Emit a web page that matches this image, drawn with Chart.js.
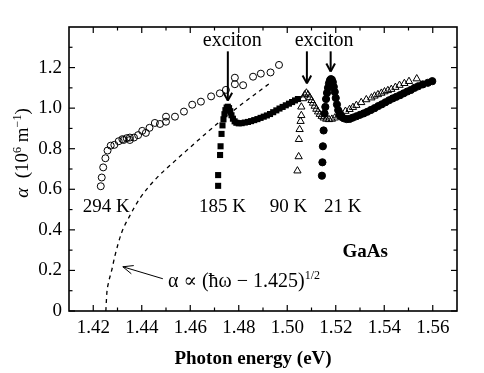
<!DOCTYPE html>
<html>
<head>
<meta charset="utf-8">
<script src="https://cdn.jsdelivr.net/npm/chart.js@4.4.1/dist/chart.umd.min.js"></script>
<style>
  html, body { margin: 0; padding: 0; background: #fff; }
  #wrap { width: 484px; height: 373px; position: relative; }
</style>
</head>
<body>
<div id="wrap"><canvas id="chart"></canvas></div>
<script>
// GaAs absorption edge
// photon energy (eV) / alpha (10^6 m^-1)
const e294 = [1.4231, 1.4235, 1.4241, 1.4250, 1.4259, 1.4272, 1.4287, 1.4305, 1.4320, 1.4325, 1.4338, 1.4351,
  1.4351, 1.4368, 1.4385, 1.4402, 1.4417, 1.4432, 1.4454, 1.4475, 1.4500, 1.4500, 1.4537, 1.4574, 1.4608,
  1.4644, 1.4686, 1.4722, 1.4747, 1.4784, 1.4784, 1.4818, 1.4859, 1.4891, 1.4931, 1.4966];
const a294 = [0.615, 0.658, 0.708, 0.753, 0.791, 0.815, 0.819, 0.837, 0.847, 0.843, 0.852, 0.855,
  0.843, 0.855, 0.867, 0.888, 0.878, 0.903, 0.927, 0.922, 0.933, 0.958, 0.958, 0.983, 1.017,
  1.032, 1.058, 1.073, 1.090, 1.150, 1.118, 1.113, 1.155, 1.170, 1.176, 1.213];

const e185 = [1.4715, 1.4715, 1.4723, 1.4725, 1.4729, 1.4733, 1.4737, 1.4741, 1.4745, 1.4750, 1.4755, 1.4760,
  1.4765, 1.4770, 1.4776, 1.4783, 1.4790, 1.4800, 1.4812, 1.4825, 1.4838, 1.4851, 1.4864, 1.4877, 1.4890,
  1.4903, 1.4916, 1.4929, 1.4942, 1.4955, 1.4968, 1.4981, 1.4994, 1.5007, 1.5020, 1.5032, 1.5044];
const a185 = [0.617, 0.670, 0.769, 0.812, 0.873, 0.915, 0.945, 0.970, 0.990, 1.003, 1.007, 1.000,
  0.985, 0.965, 0.948, 0.935, 0.928, 0.925, 0.926, 0.929, 0.932, 0.936, 0.941, 0.946, 0.952,
  0.958, 0.964, 0.971, 0.980, 0.989, 0.998, 1.006, 1.014, 1.022, 1.030, 1.038, 1.045];

const e90 = [1.5042, 1.5047, 1.5048, 1.5051, 1.5055, 1.5058, 1.5058, 1.5065, 1.5072, 1.5079, 1.5086, 1.5093,
  1.5100, 1.5106, 1.5113, 1.5120, 1.5127, 1.5134, 1.5142, 1.5150, 1.5161, 1.5172, 1.5184, 1.5196, 1.5210,
  1.5223, 1.5240, 1.5257, 1.5271, 1.5285, 1.5305, 1.5326, 1.5347, 1.5360, 1.5374, 1.5388, 1.5401, 1.5415,
  1.5429, 1.5446, 1.5463, 1.5483, 1.5502, 1.5534];
const a90 = [0.691, 0.761, 0.846, 0.895, 0.935, 0.964, 1.006, 1.047, 1.066, 1.075, 1.066, 1.052,
  1.038, 1.025, 1.010, 0.995, 0.982, 0.970, 0.960, 0.952, 0.946, 0.944, 0.946, 0.952, 0.962,
  0.975, 0.985, 0.994, 1.004, 1.014, 1.028, 1.042, 1.051, 1.060, 1.067, 1.074, 1.081, 1.087,
  1.093, 1.103, 1.113, 1.122, 1.132, 1.145];

const e21 = [1.5143, 1.5145, 1.5147, 1.5150, 1.5154, 1.5157, 1.5160, 1.5164, 1.5168, 1.5172, 1.5176, 1.5180,
  1.5184, 1.5188, 1.5192, 1.5196, 1.5200, 1.5205, 1.5210, 1.5216, 1.5224, 1.5233, 1.5245, 1.5257, 1.5270,
  1.5285, 1.5300, 1.5315, 1.5330, 1.5345, 1.5360, 1.5375, 1.5390, 1.5405, 1.5420, 1.5435, 1.5450, 1.5465,
  1.5480, 1.5495, 1.5510, 1.5525, 1.5540, 1.5559, 1.5580, 1.5598];
const a21 = [0.667, 0.733, 0.812, 0.890, 0.973, 1.006, 1.045, 1.075, 1.100, 1.122, 1.137, 1.143,
  1.140, 1.128, 1.105, 1.080, 1.050, 1.018, 0.990, 0.970, 0.957, 0.950, 0.946, 0.947, 0.953,
  0.960, 0.967, 0.974, 0.982, 0.991, 1.000, 1.010, 1.019, 1.029, 1.039, 1.048, 1.056, 1.064,
  1.073, 1.082, 1.090, 1.100, 1.108, 1.117, 1.125, 1.133];

// dashed square-root edge
const eFit = [1.4252, 1.4256, 1.4262, 1.4276, 1.4289, 1.4317, 1.4351, 1.4392, 1.4461, 1.4537, 1.4598,
  1.4667, 1.4736, 1.4804, 1.4880, 1.4925];
const aFit = [0, 0.088, 0.135, 0.200, 0.270, 0.386, 0.470, 0.555, 0.655, 0.740, 0.805,
  0.878, 0.947, 1.012, 1.080, 1.120];

const xTickLabels = [1.42, 1.44, 1.46, 1.48, 1.50, 1.52, 1.54, 1.56];
const xMinorTicks = [1.43, 1.45, 1.47, 1.49, 1.51, 1.53, 1.55];
const yTickLabels = [0, 0.2, 0.4, 0.6, 0.8, 1.0, 1.2];
const yMinorTicks = [0.1, 0.3, 0.5, 0.7, 0.9, 1.1, 1.3];

const SERIF = "'Liberation Serif', 'DejaVu Serif', serif";

const zip = (xs, ys) => xs.map((x, i) => ({ x: x, y: ys[i] }));

function line(ctx, x1, y1, x2, y2) {
    ctx.beginPath();
    ctx.moveTo(x1, y1);
    ctx.lineTo(x2, y2);
    ctx.stroke();
}

function arrow(ctx, x1, y1, x2, y2, head, spread) {
    line(ctx, x1, y1, x2, y2);
    const a = Math.atan2(y2 - y1, x2 - x1);
    line(ctx, x2, y2, x2 - head * Math.cos(a - spread), y2 - head * Math.sin(a - spread));
    line(ctx, x2, y2, x2 - head * Math.cos(a + spread), y2 - head * Math.sin(a + spread));
}

// text made of pieces: [text, font, dy]
function rich(ctx, parts, x, y, align) {
    let w = 0;
    parts.forEach(p => { ctx.font = p[1]; w += ctx.measureText(p[0]).width; });
    let cx = align === 'center' ? x - w / 2 : x;
    ctx.textAlign = 'left';
    parts.forEach(p => {
        ctx.font = p[1];
        ctx.fillText(p[0], cx, y + (p[2] || 0));
        cx += ctx.measureText(p[0]).width;
    });
}

const decorations = {
    id: 'decorations',
    afterDraw(chart) {
        const { ctx, chartArea: area, scales: { x, y } } = chart;
        ctx.save();
        ctx.strokeStyle = '#000';
        ctx.fillStyle = '#000';

        // frame
        ctx.lineWidth = 1.6;
        ctx.strokeRect(area.left, area.top, area.right - area.left, area.bottom - area.top);

        // inward ticks on all four sides
        ctx.lineWidth = 1.2;
        const tx = (v, len) => {
            const px = x.getPixelForValue(v);
            line(ctx, px, area.bottom, px, area.bottom - len);
            line(ctx, px, area.top, px, area.top + len);
        };
        const ty = (v, len) => {
            const py = y.getPixelForValue(v);
            line(ctx, area.left, py, area.left + len, py);
            line(ctx, area.right, py, area.right - len, py);
        };
        xTickLabels.forEach(v => tx(v, 6));
        xMinorTicks.forEach(v => tx(v, 3.5));
        yTickLabels.forEach(v => ty(v, 6));
        yMinorTicks.forEach(v => ty(v, 3.5));

        // axis titles
        ctx.textBaseline = 'alphabetic';
        ctx.font = 'bold 19px ' + SERIF;
        ctx.textAlign = 'center';
        ctx.fillText('Photon energy (eV)', 253, 364);

        ctx.save();
        ctx.translate(28, 153);
        ctx.rotate(-Math.PI / 2);
        rich(ctx, [
            ['\u03b1', 'italic 19px ' + SERIF],
            ['  (10', '19px ' + SERIF],
            ['6', '12px ' + SERIF, -7],
            [' m', '19px ' + SERIF],
            ['\u22121', '12px ' + SERIF, -7],
            [')', '19px ' + SERIF]
        ], 0, 0, 'center');
        ctx.restore();

        // temperature labels
        ctx.font = '19px ' + SERIF;
        ctx.textAlign = 'center';
        const lbl = (t, ex, ay) => ctx.fillText(t, x.getPixelForValue(ex), y.getPixelForValue(ay));
        lbl('294 K', 1.4254, 0.486);
        lbl('185 K', 1.4733, 0.486);
        lbl('90 K', 1.5005, 0.486);
        lbl('21 K', 1.5229, 0.486);

        ctx.font = 'bold 19px ' + SERIF;
        lbl('GaAs', 1.5321, 0.268);

        // exciton markers
        ctx.font = '20px ' + SERIF;
        lbl('exciton', 1.4773, 1.305);
        lbl('exciton', 1.5152, 1.305);
        ctx.lineWidth = 2;
        const exc = (ex, tip) => {
            const px = x.getPixelForValue(ex);
            arrow(ctx, px, y.getPixelForValue(1.280), px, y.getPixelForValue(tip), 9, 0.5);
        };
        exc(1.4755, 1.037);
        exc(1.5081, 1.122);
        exc(1.5179, 1.181);

        // fit annotation
        ctx.lineWidth = 1;
        arrow(ctx, x.getPixelForValue(1.4487), y.getPixelForValue(0.159),
            x.getPixelForValue(1.4322), y.getPixelForValue(0.218), 11, 0.4);
        rich(ctx, [
            ['\u03b1 \u221d (\u0127\u03c9 \u2212 1.425)', '20px ' + SERIF],
            ['1/2', '12px ' + SERIF, -8]
        ], x.getPixelForValue(1.4508), y.getPixelForValue(0.119), 'left');

        ctx.restore();
    }
};

const tickFont = { family: 'Liberation Serif', size: 19 };

new Chart(document.getElementById('chart'), {
    type: 'scatter',
    data: {
        datasets: [
            { label: '21 K', data: zip(e21, a21), pointStyle: 'circle', pointRadius: 3.6,
              backgroundColor: '#000', borderColor: '#000', borderWidth: 1, order: 0 },
            { label: '90 K', data: zip(e90, a90), pointStyle: 'triangle', pointRadius: 4.2,
              backgroundColor: 'rgba(255,255,255,0)', borderColor: '#000', borderWidth: 1, order: 1 },
            { label: '185 K', data: zip(e185, a185), pointStyle: 'rect', pointRadius: 4.3,
              backgroundColor: '#000', borderColor: '#000', borderWidth: 0, order: 2 },
            { label: 'sqrt fit', data: zip(eFit, aFit), showLine: true, pointRadius: 0,
              borderColor: '#000', borderWidth: 1.3, borderDash: [4, 4],
              cubicInterpolationMode: 'monotone', order: 3 },
            { label: '294 K', data: zip(e294, a294), pointStyle: 'circle', pointRadius: 3.5,
              backgroundColor: 'rgba(255,255,255,0)', borderColor: '#000', borderWidth: 1, order: 4 }
        ]
    },
    options: {
        responsive: true,
        maintainAspectRatio: false,
        animation: false,
        events: [],
        layout: { padding: { left: 0, right: 27, top: 27, bottom: 0 } },
        plugins: { legend: { display: false }, tooltip: { enabled: false } },
        scales: {
            x: {
                type: 'linear', min: 1.41, max: 1.57,
                afterBuildTicks: (s) => { s.ticks = xTickLabels.map(v => ({ value: v })); },
                afterFit: (s) => { s.height = 62; },
                grid: { display: false, drawTicks: false },
                border: { display: false },
                ticks: { font: tickFont, color: '#000', padding: 6, maxRotation: 0, autoSkip: false,
                         callback: (v) => v.toFixed(2) }
            },
            y: {
                type: 'linear', min: 0, max: 1.4,
                afterBuildTicks: (s) => { s.ticks = yTickLabels.map(v => ({ value: v })); },
                afterFit: (s) => { s.width = 69; },
                grid: { display: false, drawTicks: false },
                border: { display: false },
                ticks: { font: tickFont, color: '#000', padding: 7, autoSkip: false,
                         callback: (v) => v === 0 ? '0' : v.toFixed(1) }
            }
        }
    },
    plugins: [decorations]
});
</script>
</body>
</html>
